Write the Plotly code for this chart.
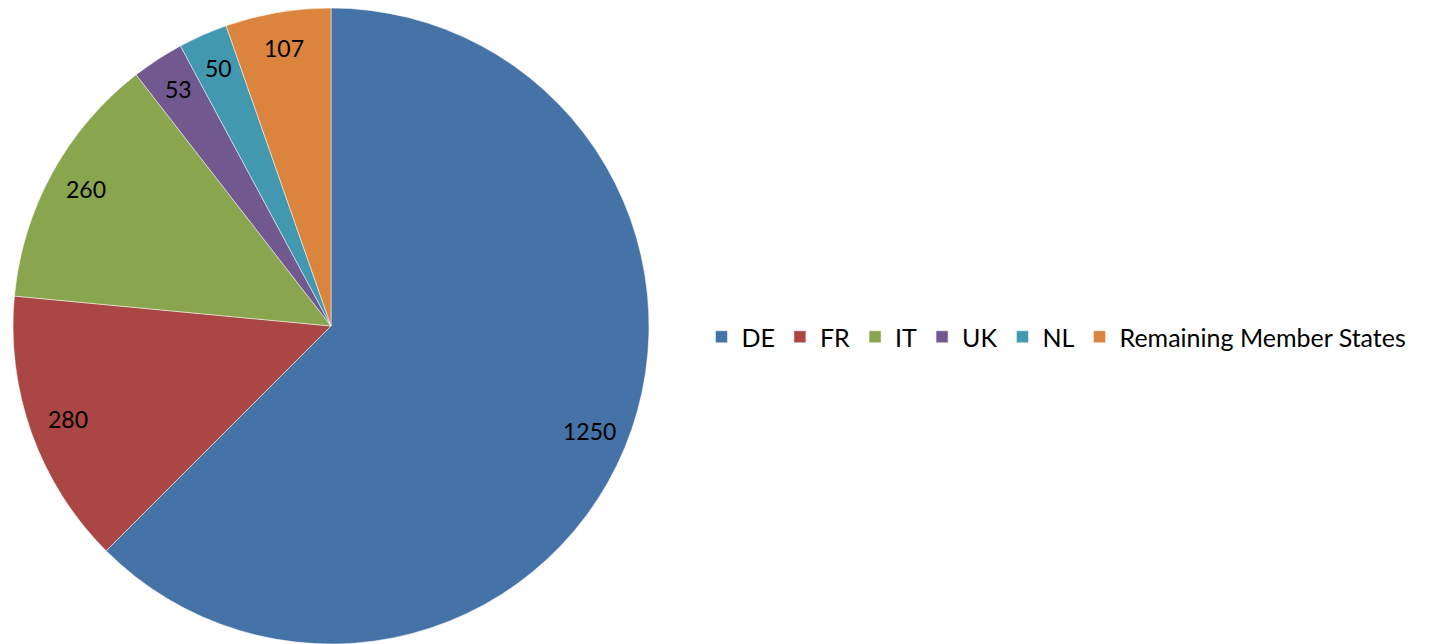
import math
import plotly.graph_objects as go

categories = ["DE", "FR", "IT", "UK", "NL", "Remaining Member States"]
values = [1250, 280, 260, 53, 50, 107]
colors = ["#4572A7", "#AA4643", "#89A54E", "#71588F", "#4198AF", "#DB843D"]

W, H = 1431, 644
cx, cy, r = 331, 326, 318

fig = go.Figure(go.Pie(
    labels=categories,
    values=values,
    sort=False,
    direction="clockwise",
    rotation=0,
    marker=dict(colors=colors, line=dict(color="white", width=0.5)),
    textinfo="none",
    textposition="none",
    domain=dict(x=[(cx - r) / W, (cx + r) / W], y=[(H - cy - r) / H, (H - cy + r) / H]),
    hoverinfo="label+value",
))

# data labels placed along each slice's bisector, near the rim (as in the original)
total = sum(values)
label_r = 0.88 * r
cum = 0.0
for v in values:
    mid = (cum + v / 2) / total * 2 * math.pi
    cum += v
    px = cx + label_r * math.sin(mid)
    py = cy - label_r * math.cos(mid) - 2
    fig.add_annotation(
        x=px / W, y=1 - py / H, xref="paper", yref="paper",
        text=str(v), showarrow=False,
        xanchor="center", yanchor="middle",
        font=dict(family="Lato", size=23, color="black"),
    )

fig.update_layout(
    width=W, height=H,
    margin=dict(l=0, r=0, t=0, b=0),
    paper_bgcolor="white",
    showlegend=True,
    legend=dict(
        orientation="h",
        x=0.4902, xanchor="left",
        y=(H - 337) / H, yanchor="middle",
        font=dict(family="Lato", size=25, color="black"),
        itemwidth=30,
        tracegroupgap=0,
    ),
)

fig.write_html("out.html")
